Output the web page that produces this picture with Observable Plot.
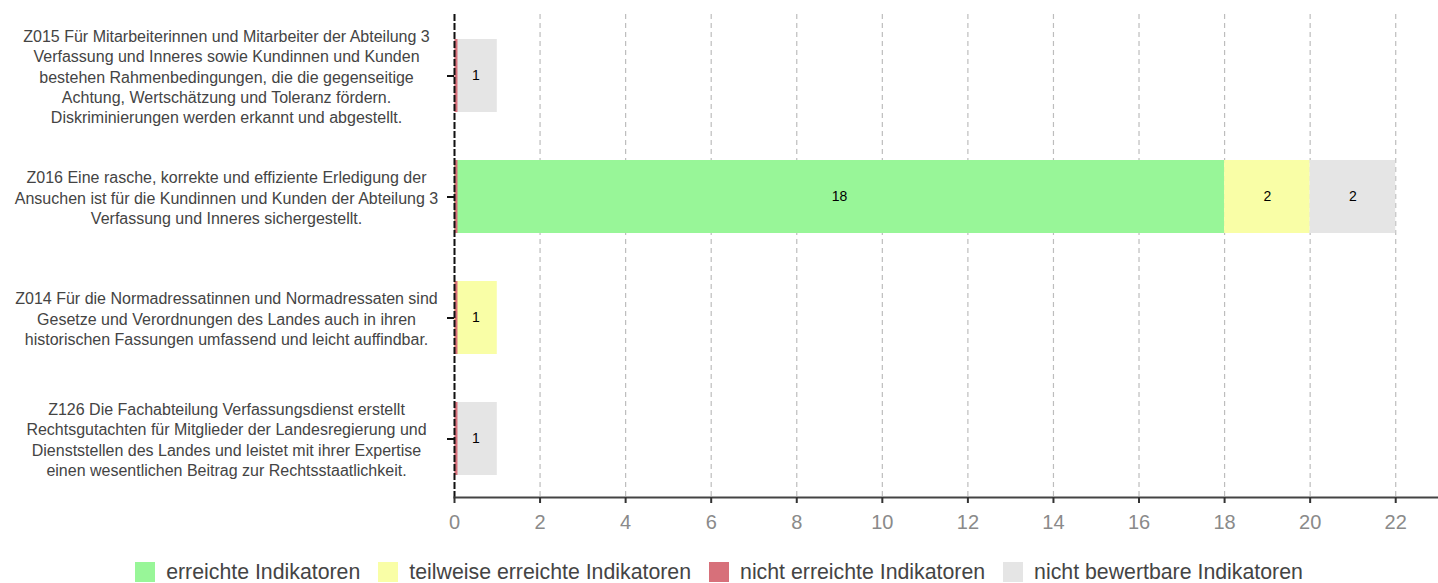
<!DOCTYPE html>
<html>
<head>
<meta charset="utf-8">
<script src="https://cdn.jsdelivr.net/npm/d3@7"></script>
<script src="https://cdn.jsdelivr.net/npm/@observablehq/plot@0.6"></script>
<style>
  html, body { margin: 0; padding: 0; background: #fff; }
  body { width: 1438px; height: 583px; overflow: hidden; font-family: "Liberation Sans", Arial, sans-serif; }
  #chart svg { display: block; }
  #legend { display: flex; justify-content: center; align-items: center; height: 38px; padding-top: 8px; font-size: 21.3px; color: #444; }
  .item { display: flex; align-items: center; margin: 0 9px; }
  .sw { width: 20px; height: 20px; margin-right: 11px; }
</style>
</head>
<body>
<div id="chart"></div>
<div id="legend"></div>
<script>
// ---- data ----
const categories = [
  "Z015 Für Mitarbeiterinnen und Mitarbeiter der Abteilung 3\nVerfassung und Inneres sowie Kundinnen und Kunden\nbestehen Rahmenbedingungen, die die gegenseitige\nAchtung, Wertschätzung und Toleranz fördern.\nDiskriminierungen werden erkannt und abgestellt.",
  "Z016 Eine rasche, korrekte und effiziente Erledigung der\nAnsuchen ist für die Kundinnen und Kunden der Abteilung 3\nVerfassung und Inneres sichergestellt.",
  "Z014 Für die Normadressatinnen und Normadressaten sind\nGesetze und Verordnungen des Landes auch in ihren\nhistorischen Fassungen umfassend und leicht auffindbar.",
  "Z126 Die Fachabteilung Verfassungsdienst erstellt\nRechtsgutachten für Mitglieder der Landesregierung und\nDienststellen des Landes und leistet mit ihrer Expertise\neinen wesentlichen Beitrag zur Rechtsstaatlichkeit."
];
const seriesNames = ["erreichte Indikatoren", "teilweise erreichte Indikatoren", "nicht erreichte Indikatoren", "nicht bewertbare Indikatoren"];
const erreicht        = [0, 18, 0, 0];
const teilweise       = [0, 2, 1, 0];
const nichtErreicht   = [0, 0, 0, 0];
const nichtBewertbar  = [1, 2, 0, 1];
const seriesColors = ["#98F698", "#F9FEA6", "#D7707A", "#E5E5E5"];
const xTicks = [0, 2, 4, 6, 8, 10, 12, 14, 16, 18, 20, 22];

// ---- build stacked table (stack order: nicht erreicht, erreicht, teilweise, nicht bewertbar) ----
const valuesBySeries = {
  "erreichte Indikatoren": erreicht,
  "teilweise erreichte Indikatoren": teilweise,
  "nicht erreichte Indikatoren": nichtErreicht,
  "nicht bewertbare Indikatoren": nichtBewertbar
};
const stackOrder = ["nicht erreichte Indikatoren", "erreichte Indikatoren", "teilweise erreichte Indikatoren", "nicht bewertbare Indikatoren"];
const rows = [];
categories.forEach((c, i) => {
  let acc = 0;
  for (const s of stackOrder) {
    const v = valuesBySeries[s][i];
    rows.push({cat: c, series: s, value: v, x1: acc, x2: acc + v});
    acc += v;
  }
});
const barRows = rows.filter(d => d.value > 0);
const zeroRed = rows.filter(d => d.series === "nicht erreichte Indikatoren" && d.value === 0);

const chart = Plot.plot({
  width: 1438,
  height: 545,
  marginLeft: 454,
  marginRight: 0,
  marginTop: 14,
  marginBottom: 48,
  style: {fontFamily: "Liberation Sans, Arial, sans-serif", background: "#fff"},
  x: {domain: [0, 23], ticks: xTicks},
  y: {domain: categories, paddingInner: 0.4, paddingOuter: 0.195, align: 0.53},
  color: {domain: seriesNames, range: seriesColors},
  marks: [
    Plot.gridX(xTicks, {stroke: "#bdbdbd", strokeOpacity: 1, strokeWidth: 1.2, strokeDasharray: "5,4"}),
    Plot.barX(barRows, {x1: "x1", x2: "x2", y: "cat", fill: "series"}),
    Plot.text(barRows, {x: d => (d.x1 + d.x2) / 2, y: "cat", text: d => String(d.value), fontSize: 14, fill: "#000"}),
    Plot.tickX(zeroRed, {x: "x1", y: "cat", stroke: "#D7707A", strokeWidth: 3, dx: 1.5}),
    Plot.ruleX([0], {stroke: "#111", strokeWidth: 2, strokeDasharray: "7,2"}),
    Plot.frame({anchor: "bottom", stroke: "#444", strokeWidth: 2.2}),
    Plot.axisX({ticks: xTicks, tickSize: 6, stroke: "#333", strokeWidth: 2, tickPadding: 11, fontSize: 20, fill: "#8a8a8a", color: "#8a8a8a", label: null}),
    Plot.axisY({tickSize: 7, strokeWidth: 2, stroke: "#111", tickPadding: 221, textAnchor: "middle", fontSize: 16, fill: "#444", lineHeight: 1.27, label: null})
  ]
});
chart.querySelectorAll('g[aria-label="x-axis tick label"] text').forEach(t => t.setAttribute("fill", "#8a8a8a"));
document.getElementById("chart").appendChild(chart);

// ---- legend ----
const legend = document.getElementById("legend");
seriesNames.forEach((s, i) => {
  const it = document.createElement("div");
  it.className = "item";
  const sw = document.createElement("div");
  sw.className = "sw";
  sw.style.background = seriesColors[i];
  const lab = document.createElement("span");
  lab.textContent = s;
  it.appendChild(sw); it.appendChild(lab);
  legend.appendChild(it);
});
</script>
</body>
</html>
